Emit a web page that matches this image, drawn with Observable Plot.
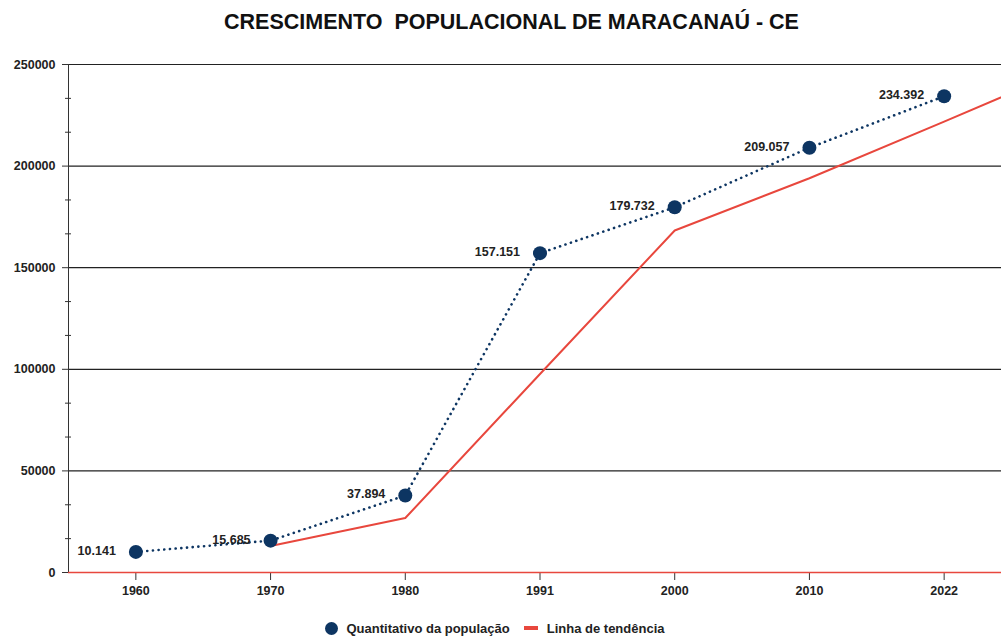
<!DOCTYPE html>
<html>
<head>
<meta charset="utf-8">
<script src="https://cdn.jsdelivr.net/npm/d3@7"></script>
<script src="https://cdn.jsdelivr.net/npm/@observablehq/plot@0.6"></script>
<style>
  html, body { margin: 0; padding: 0; background: #fff; overflow: hidden; }
  body { width: 1001px; height: 636px; font-family: "Liberation Sans", Arial, sans-serif; }
  #title { height: 45px; line-height: 44px; text-align: center; font-weight: bold; font-size: 21.5px; color: #111; padding-left: 22px; white-space: nowrap; }
  #legend { display: flex; justify-content: center; align-items: center; gap: 14px; height: 24px; font-size: 13px; font-weight: bold; color: #222; padding-right: 12px; padding-top: 4px; }
  #legend .item { display: flex; align-items: center; gap: 9px; }
  #legend .dot { width: 13px; height: 13px; border-radius: 50%; background: #0d3562; }
  #legend .dash { width: 14px; height: 4px; background: #e8473d; }
</style>
</head>
<body>
<div id="title">CRESCIMENTO&nbsp;&nbsp;POPULACIONAL DE MARACANAÚ - CE</div>
<div id="chart"></div>
<div id="legend">
  <div class="item"><span class="dot"></span><span>Quantitativo da população</span></div>
  <div class="item"><span class="dash"></span><span>Linha de tendência</span></div>
</div>
<script>
const years = ["1960", "1970", "1980", "1991", "2000", "2010", "2022"];
const population = [10141, 15685, 37894, 157151, 179732, 209057, 234392];
const popLabels = ["10.141", "15.685", "37.894", "157.151", "179.732", "209.057", "234.392"];
// trend line: positions (category index) and values, extended half a period past 2022
const trendIndex = [1, 2, 3, 4, 5, 6, 6.5];
const trendValues = [13000, 26800, 97700, 168300, 194000, 221900, 236000];
const yMajor = [0, 50000, 100000, 150000, 200000, 250000];
const yMinor = d3.range(0, 250001, 50000 / 3).filter(v => !yMajor.some(m => Math.abs(m - v) < 1));

const pop = years.map((y, i) => ({i, year: y, value: population[i], label: popLabels[i]}));
const trend = trendIndex.map((i, k) => ({i, value: trendValues[k]}));

const navy = "#0d3562";
const red = "#e8473d";

const chart = Plot.plot({
  width: 1001,
  height: 567,
  marginTop: 19,
  marginBottom: 40,
  marginLeft: 68,
  marginRight: -10,
  style: {fontFamily: "Liberation Sans, Arial, sans-serif", fontSize: "12.5px", fontWeight: "bold", color: "#222", overflow: "hidden"},
  x: {type: "linear", domain: [-0.5, years.length - 0.5]},
  y: {domain: [0, 250000]},
  marks: [
    Plot.ruleY(yMajor.filter(v => v > 0), {stroke: "#222", strokeWidth: 1.2}),
    Plot.frame({anchor: "left", stroke: "#333"}),
    Plot.axisY({ticks: yMajor, tickSize: 6, tickPadding: 7, tickFormat: d => String(d), stroke: "#333", fill: "#222", label: null}),
    Plot.axisY({ticks: yMinor, tickSize: 6, dx: 3, tickFormat: () => "", stroke: "#333", label: null}),
    Plot.axisX({ticks: d3.range(years.length), tickFormat: i => years[i], tickSize: 8, tickPadding: 6, stroke: "#333", fill: "#222", label: null}),
    Plot.ruleY([0], {stroke: red, strokeWidth: 1.5}),
    Plot.line(trend, {x: "i", y: "value", stroke: red, strokeWidth: 2}),
    Plot.line(pop, {x: "i", y: "value", stroke: navy, strokeWidth: 2.6, strokeDasharray: "0.1,5.6", strokeLinecap: "round"}),
    Plot.dot(pop, {x: "i", y: "value", r: 7, fill: navy}),
    Plot.text(pop, {x: "i", y: "value", text: "label", textAnchor: "end", dx: -20, dy: -1, fill: "#222", fontSize: 12.5, fontWeight: "bold"})
  ]
});
document.getElementById("chart").appendChild(chart);
</script>
</body>
</html>
